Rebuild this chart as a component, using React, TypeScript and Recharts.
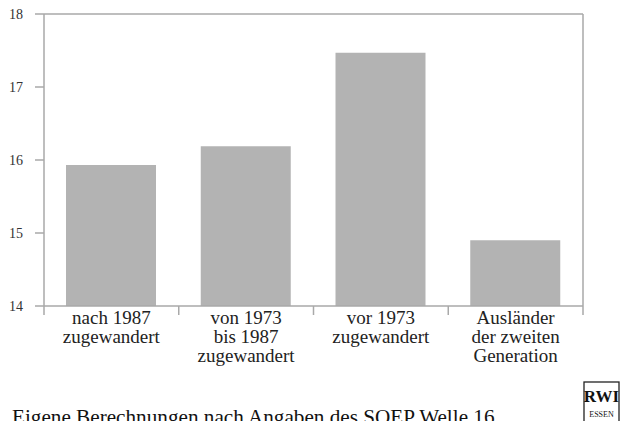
import React from "react";
import { BarChart, Bar, XAxis, YAxis, ReferenceLine } from "recharts";

const categories = [
  ["nach 1987", "zugewandert"],
  ["von 1973", "bis 1987", "zugewandert"],
  ["vor 1973", "zugewandert"],
  ["Ausländer", "der zweiten", "Generation"],
];
const values = [15.93, 16.19, 17.47, 14.9];
const yTicks = [14, 15, 16, 17, 18];
const footer = "Eigene Berechnungen nach Angaben des SOEP Welle 16";

const data = categories.map((lines, i) => ({ name: lines.join(" "), lines, value: values[i] }));

const AXIS = "#a9a9a9";
const FONT = "Liberation Serif";
const BAND = (583 - 44) / categories.length;

function CategoryTick(props: any) {
  const { x, y, index } = props;
  const lines = categories[index] || [];
  return (
    <g>
      <line x1={x - BAND / 2} y1={y} x2={x - BAND / 2} y2={y + 9} stroke={AXIS} strokeWidth={1.5} />
      {index === categories.length - 1 && (
        <line x1={x + BAND / 2} y1={y} x2={x + BAND / 2} y2={y + 9} stroke={AXIS} strokeWidth={1.5} />
      )}
      {lines.map((l, i) => (
        <text key={i} x={x} y={y + 18 + i * 19} textAnchor="middle" fontFamily={FONT} fontSize={19} fill="#222">
          {l}
        </text>
      ))}
    </g>
  );
}

function ValueTick(props: any) {
  const { x, y, payload, side } = props;
  return (
    <text
      x={x}
      y={y}
      dy={5}
      textAnchor={side === "right" ? "start" : "end"}
      fontFamily={FONT}
      fontSize={14}
      fill="#333"
    >
      {payload.value}
    </text>
  );
}

export default function App() {
  return (
    <div style={{ position: "absolute", left: 0, top: 0, width: 623, height: 421, overflow: "hidden", background: "#fff" }}>
      <BarChart width={623} height={380} data={data} margin={{ top: 14, right: 0, bottom: 0, left: 0 }}>
        <XAxis
          dataKey="name"
          height={74}
          tickLine={false}
          tickSize={0}
          tickMargin={0}
          axisLine={{ stroke: AXIS, strokeWidth: 1.5 }}
          tick={<CategoryTick />}
          interval={0}
        />
        <YAxis
          yAxisId="left"
          orientation="left"
          width={44}
          domain={[14, 18]}
          ticks={yTicks}
          tickSize={9}
          tickMargin={12}
          axisLine={{ stroke: AXIS, strokeWidth: 1.5 }}
          tickLine={{ stroke: AXIS, strokeWidth: 1.5 }}
          tick={<ValueTick side="left" />}
        />
        <YAxis
          yAxisId="right"
          orientation="right"
          width={40}
          domain={[14, 18]}
          ticks={yTicks}
          tickSize={9}
          tickMargin={14}
          axisLine={{ stroke: AXIS, strokeWidth: 1.5 }}
          tickLine={{ stroke: AXIS, strokeWidth: 1.5 }}
          tick={<ValueTick side="right" />}
        />
        <ReferenceLine yAxisId="left" y={18} stroke={AXIS} strokeWidth={1.5} />
        <Bar yAxisId="left" dataKey="value" fill="#b3b3b3" barSize={90} isAnimationActive={false} />
      </BarChart>
      <svg width={623} height={421} style={{ position: "absolute", left: 0, top: 0, pointerEvents: "none" }}>
        <text x={12} y={424} fontFamily={FONT} fontSize={21.2} fill="#111">
          {footer}
        </text>
        <rect x={584} y={382} width={35} height={44} fill="none" stroke="#222" strokeWidth={1.3} />
        <text x={601.5} y={402} textAnchor="middle" fontFamily={FONT} fontSize={17} fontWeight="bold" fill="#111">
          RWI
        </text>
        <text x={601.5} y={417} textAnchor="middle" fontFamily={FONT} fontSize={8} fill="#111">
          ESSEN
        </text>
      </svg>
    </div>
  );
}
